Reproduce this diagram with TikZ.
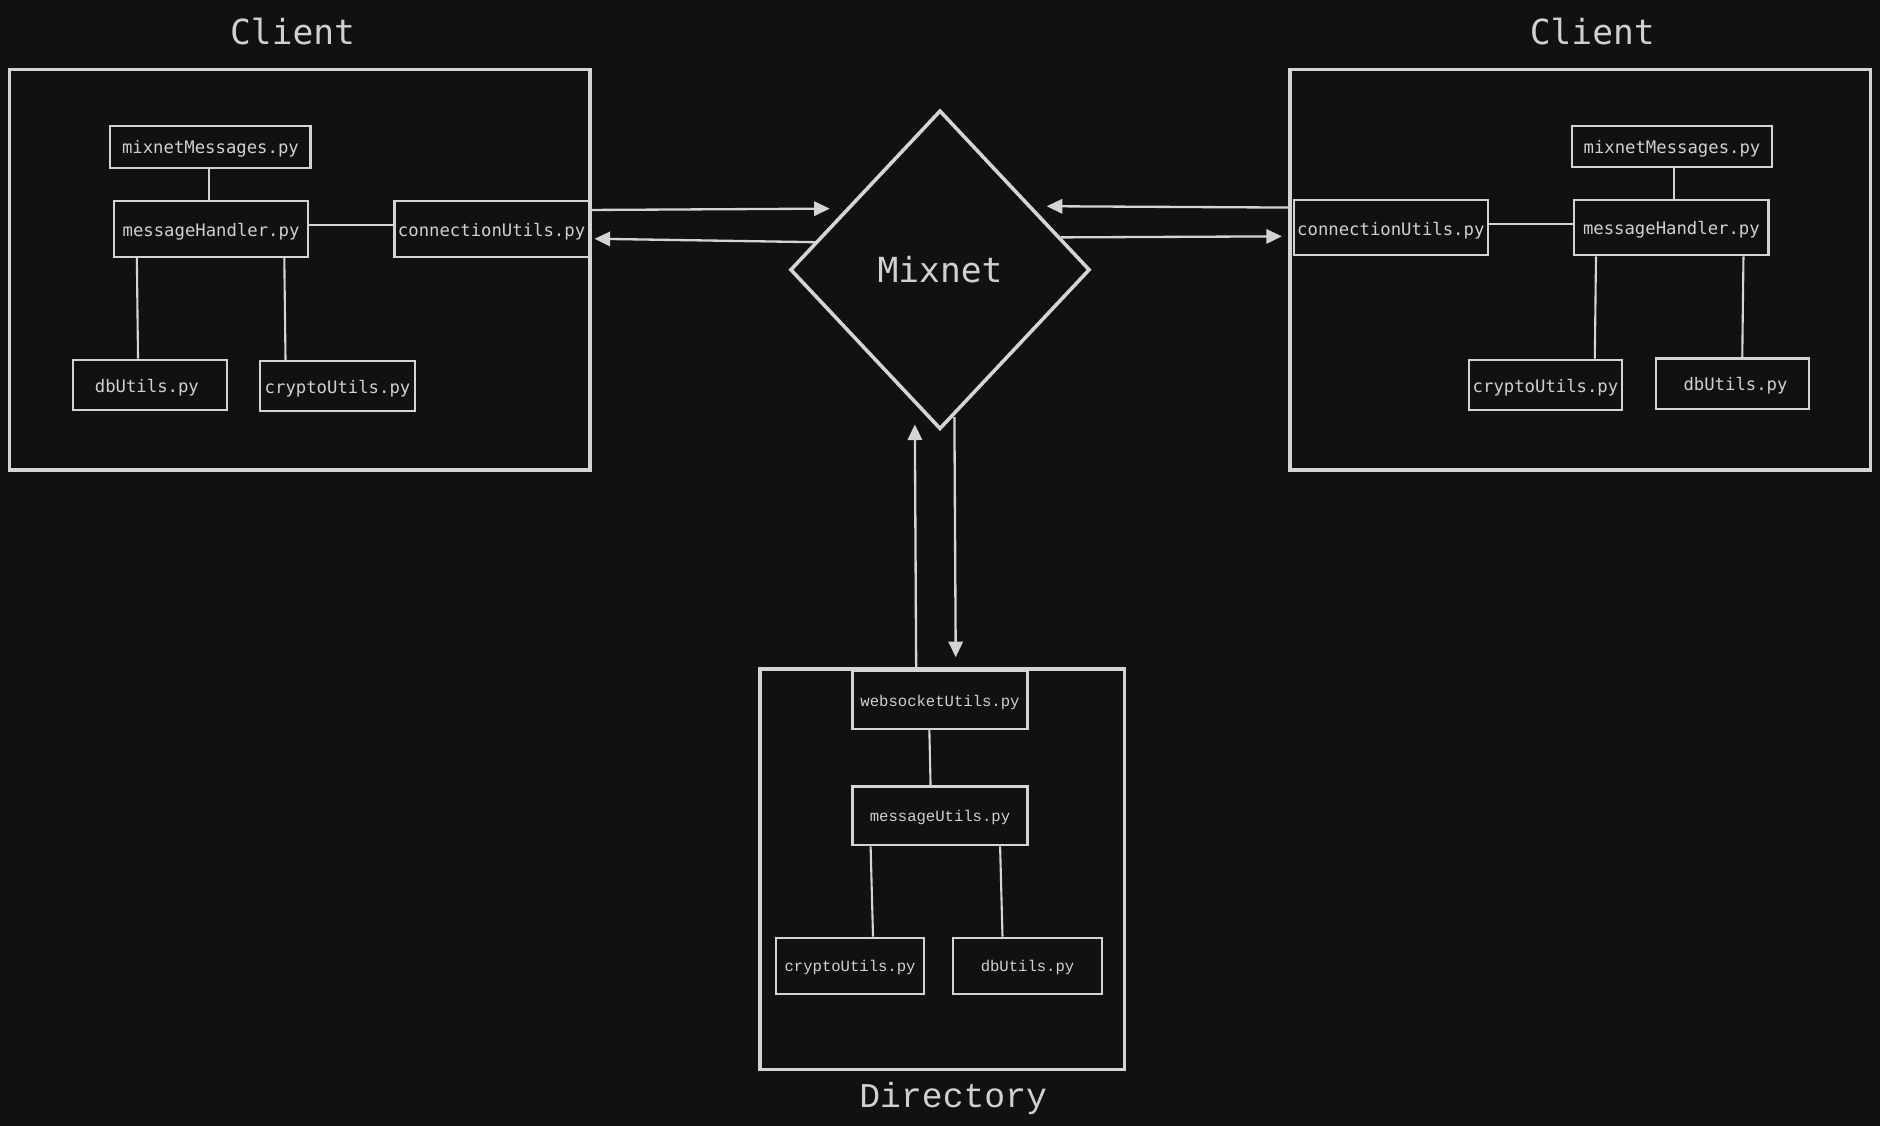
\documentclass[tikz,border=0pt]{standalone}
\usepackage{fontspec}
\usetikzlibrary{arrows.meta,shapes.geometric,fit,calc}
\newfontfamily\dvmono{DejaVu Sans Mono}
\newfontfamily\lbmono{Liberation Mono}
\definecolor{bg}{HTML}{111111}
\definecolor{fg}{HTML}{D4D4D4}
\definecolor{txt}{HTML}{D0D0D0}
\tikzset{
  filebox/.style={draw=fg, line width=1pt, inner sep=0pt},
  filetext/.style={text=txt, inner sep=0pt, yshift=-0.04cm, font=\fontsize{8.2pt}{9pt}\selectfont\dvmono},
  dirtext/.style={text=txt, inner sep=0pt, yshift=-0.03cm, font=\fontsize{7.4pt}{9pt}\selectfont\lbmono},
  outerbox/.style={draw=fg, line width=1.7pt, inner sep=0pt},
  titletext/.style={text=txt, inner sep=0pt, font=\fontsize{16.4pt}{18pt}\selectfont\dvmono},
  dirtitle/.style={text=txt, inner sep=0pt, font=\fontsize{16.5pt}{18pt}\selectfont\lbmono},
  link/.style={draw=fg, line width=1pt},
  arr/.style={draw=fg, line width=1.1pt, -{Triangle[length=0.26cm,width=0.24cm]}},
}
\begin{document}
\begin{tikzpicture}[x=0.02cm,y=-0.02cm]
\fill[bg] (0,0) rectangle (1568,939);
\useasboundingbox (0,0) rectangle (1568,939);

% ---------- outer boxes ----------
\node[outerbox, fit={(8,58) (492,392)}] (cL) {};
\node[outerbox, fit={(1076,58) (1560,392)}] (cR) {};
\node[outerbox, fit={(634,558) (938,892)}] (dir) {};

% ---------- titles ----------
\node[titletext, anchor=base] (tL) at (244,37) {Client};
\node[titletext, anchor=base] (tR) at (1328,37) {Client};
\node[dirtitle, anchor=base] (tD) at (795,924) {Directory};

% ---------- Mixnet ----------
\node[diamond, draw=fg, line width=1.7pt, inner sep=0pt, minimum width=5cm, minimum height=5.32cm, text=txt, font=\fontsize{16.4pt}{18pt}\selectfont\dvmono] (mix) at (784,225) {Mixnet};

% ---------- left client ----------
\node[filebox, fit={(92,105) (259,140)}, label={[filetext]center:mixnetMessages.py}] (mmL) {};
\node[filebox, fit={(95,168) (257,214)}, label={[filetext]center:messageHandler.py}] (mhL) {};
\node[filebox, fit={(329,168) (491,214)}, label={[filetext]center:connectionUtils.py}] (cuL) {};
\node[filebox, fit={(61,300) (189,342)}, label={[filetext, xshift=-0.05cm]center:dbUtils.py}] (dbL) {};
\node[filebox, fit={(217,301) (346,343)}, label={[filetext]center:cryptoUtils.py}] (crL) {};
\draw[link] (mmL.south -| 174,0) -- (mhL.north -| 174,0);
\draw[link] (mhL.east |- 0,188) -- (cuL.west |- 0,188);
\draw[link] ($(mhL.south west)+(20,0)$) -- ($(dbL.north west)+(55,0)$);
\draw[link] ($(mhL.south west)+(143,0)$) -- ($(crL.north west)+(22,0)$);

% ---------- right client ----------
\node[filebox, fit={(1311,105) (1478,139)}, label={[filetext]center:mixnetMessages.py}] (mmR) {};
\node[filebox, fit={(1079,167) (1241,213)}, label={[filetext]center:connectionUtils.py}] (cuR) {};
\node[filebox, fit={(1313,167) (1475,213)}, label={[filetext]center:messageHandler.py}] (mhR) {};
\node[filebox, fit={(1225,300) (1353,342)}, label={[filetext]center:cryptoUtils.py}] (crR) {};
\node[filebox, fit={(1381,299) (1509,341)}, label={[filetext, xshift=0.05cm]center:dbUtils.py}] (dbR) {};
\draw[link] (mmR.south -| 1396,0) -- (mhR.north -| 1396,0);
\draw[link] (cuR.east |- 0,187) -- (mhR.west |- 0,187);
\draw[link] ($(mhR.south west)+(19,0)$) -- ($(crR.north west)+(106,0)$);
\draw[link] ($(mhR.south west)+(142,0)$) -- ($(dbR.north west)+(73,0)$);

% ---------- directory ----------
\node[filebox, fit={(711,560) (857,608)}, label={[dirtext]center:websocketUtils.py}] (ws) {};
\node[filebox, fit={(711,656) (857,705)}, label={[dirtext]center:messageUtils.py}] (mu) {};
\node[filebox, fit={(647,782) (771,829)}, label={[dirtext]center:cryptoUtils.py}] (crD) {};
\node[filebox, fit={(795,782) (919,829)}, label={[dirtext]center:dbUtils.py}] (dbD) {};
\draw[link] ($(ws.south west)+(65,0)$) -- ($(mu.north west)+(66,0)$);
\draw[link] ($(mu.south west)+(16,0)$) -- ($(crD.north west)+(82,0)$);
\draw[link] ($(mu.south west)+(124,0)$) -- ($(dbD.north west)+(42,0)$);

% ---------- arrows ----------
\coordinate (la) at (692,174);
\coordinate (lb) at (680,202);
\coordinate (ra) at (873,172);
\coordinate (rb) at (885,198);
\coordinate (ua) at (763,354);
\coordinate (da) at (796,348);
\draw[arr] ($(cuL.north east)+(2,8)$) -- (la);
\draw[arr] (lb) -- ($(cuL.north east)+(4,32)$);
\draw[arr] ($(cuR.north west)+(-4,7)$) -- (ra);
\draw[arr] (rb) -- ($(cuR.north west)+(-9,31)$);
\draw[arr] ($(ws.north west)+(54,-3)$) -- (ua);
\draw[arr] (da) -- ($(ws.north west)+(87,-11)$);
\end{tikzpicture}
\end{document}
